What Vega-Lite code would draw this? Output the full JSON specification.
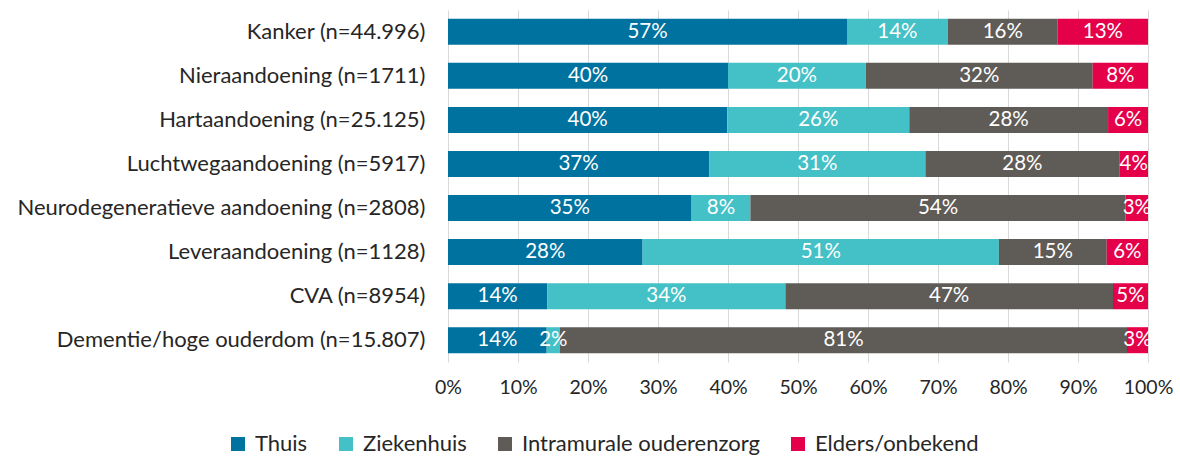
{
  "$schema": "https://vega.github.io/schema/vega-lite/v6.json",
  "width": 700,
  "height": 352,
  "autosize": {"type": "none"},
  "padding": {"left": 448, "top": 10, "right": 32, "bottom": 95},
  "background": "white",
  "config": {"view": {"stroke": null}, "font": "Lato"},
  "data": {"values": [
    {"cat": "Kanker (n=44.996)", "plaats": "Thuis", "o": 1, "v": 0.570},
    {"cat": "Kanker (n=44.996)", "plaats": "Ziekenhuis", "o": 2, "v": 0.144},
    {"cat": "Kanker (n=44.996)", "plaats": "Intramurale ouderenzorg", "o": 3, "v": 0.157},
    {"cat": "Kanker (n=44.996)", "plaats": "Elders/onbekend", "o": 4, "v": 0.129},
    {"cat": "Nieraandoening (n=1711)", "plaats": "Thuis", "o": 1, "v": 0.400},
    {"cat": "Nieraandoening (n=1711)", "plaats": "Ziekenhuis", "o": 2, "v": 0.197},
    {"cat": "Nieraandoening (n=1711)", "plaats": "Intramurale ouderenzorg", "o": 3, "v": 0.324},
    {"cat": "Nieraandoening (n=1711)", "plaats": "Elders/onbekend", "o": 4, "v": 0.079},
    {"cat": "Hartaandoening (n=25.125)", "plaats": "Thuis", "o": 1, "v": 0.399},
    {"cat": "Hartaandoening (n=25.125)", "plaats": "Ziekenhuis", "o": 2, "v": 0.260},
    {"cat": "Hartaandoening (n=25.125)", "plaats": "Intramurale ouderenzorg", "o": 3, "v": 0.284},
    {"cat": "Hartaandoening (n=25.125)", "plaats": "Elders/onbekend", "o": 4, "v": 0.057},
    {"cat": "Luchtwegaandoening (n=5917)", "plaats": "Thuis", "o": 1, "v": 0.373},
    {"cat": "Luchtwegaandoening (n=5917)", "plaats": "Ziekenhuis", "o": 2, "v": 0.309},
    {"cat": "Luchtwegaandoening (n=5917)", "plaats": "Intramurale ouderenzorg", "o": 3, "v": 0.277},
    {"cat": "Luchtwegaandoening (n=5917)", "plaats": "Elders/onbekend", "o": 4, "v": 0.041},
    {"cat": "Neurodegeneratieve aandoening (n=2808)", "plaats": "Thuis", "o": 1, "v": 0.348},
    {"cat": "Neurodegeneratieve aandoening (n=2808)", "plaats": "Ziekenhuis", "o": 2, "v": 0.084},
    {"cat": "Neurodegeneratieve aandoening (n=2808)", "plaats": "Intramurale ouderenzorg", "o": 3, "v": 0.536},
    {"cat": "Neurodegeneratieve aandoening (n=2808)", "plaats": "Elders/onbekend", "o": 4, "v": 0.032},
    {"cat": "Leveraandoening (n=1128)", "plaats": "Thuis", "o": 1, "v": 0.278},
    {"cat": "Leveraandoening (n=1128)", "plaats": "Ziekenhuis", "o": 2, "v": 0.509},
    {"cat": "Leveraandoening (n=1128)", "plaats": "Intramurale ouderenzorg", "o": 3, "v": 0.154},
    {"cat": "Leveraandoening (n=1128)", "plaats": "Elders/onbekend", "o": 4, "v": 0.059},
    {"cat": "CVA (n=8954)", "plaats": "Thuis", "o": 1, "v": 0.142},
    {"cat": "CVA (n=8954)", "plaats": "Ziekenhuis", "o": 2, "v": 0.340},
    {"cat": "CVA (n=8954)", "plaats": "Intramurale ouderenzorg", "o": 3, "v": 0.468},
    {"cat": "CVA (n=8954)", "plaats": "Elders/onbekend", "o": 4, "v": 0.050},
    {"cat": "Dementie/hoge ouderdom (n=15.807)", "plaats": "Thuis", "o": 1, "v": 0.141},
    {"cat": "Dementie/hoge ouderdom (n=15.807)", "plaats": "Ziekenhuis", "o": 2, "v": 0.019},
    {"cat": "Dementie/hoge ouderdom (n=15.807)", "plaats": "Intramurale ouderenzorg", "o": 3, "v": 0.810},
    {"cat": "Dementie/hoge ouderdom (n=15.807)", "plaats": "Elders/onbekend", "o": 4, "v": 0.030}
  ]},
  "transform": [
    {"stack": "v", "groupby": ["cat"], "sort": [{"field": "o", "order": "ascending"}], "as": ["x0", "x1"]},
    {"calculate": "(datum.x0 + datum.x1) / 2", "as": "xm"}
  ],
  "encoding": {
    "y": {
      "field": "cat", "type": "nominal", "sort": null, "title": null,
      "scale": {"paddingInner": 0.41, "paddingOuter": 0.2},
      "axis": {"domain": false, "ticks": false, "labelPadding": 23, "labelFontSize": 22, "labelColor": "#262626", "labelLimit": 600}
    }
  },
  "layer": [
    {
      "mark": {"type": "bar"},
      "encoding": {
        "x": {
          "field": "x0", "type": "quantitative", "scale": {"domain": [0, 1], "nice": false},
          "title": null,
          "axis": {"format": ".0%", "values": [0, 0.1, 0.2, 0.3, 0.4, 0.5, 0.6, 0.7, 0.8, 0.9, 1], "domain": false, "ticks": false, "grid": true, "gridColor": "#D9D9D9", "gridWidth": 1, "labelFontSize": 19.5, "labelColor": "#262626", "labelPadding": 16, "labelFlush": false}
        },
        "x2": {"field": "x1"},
        "color": {
          "field": "plaats", "type": "nominal",
          "scale": {"domain": ["Thuis", "Ziekenhuis", "Intramurale ouderenzorg", "Elders/onbekend"], "range": ["#00729F", "#44C1C6", "#5F5B57", "#E5004A"]},
          "legend": {"title": null, "orient": "none", "legendX": -221, "legendY": 423, "direction": "horizontal", "columns": 4, "symbolType": "square", "symbolSize": 196, "symbolStrokeWidth": 0, "labelFontSize": 22, "labelColor": "#262626", "labelLimit": 600, "columnPadding": 27, "labelOffset": 6}
        },
        "order": {"field": "o"}
      }
    },
    {
      "mark": {"type": "text", "color": "white", "fontSize": 20.5, "align": "center", "baseline": "middle"},
      "encoding": {
        "x": {"field": "xm", "type": "quantitative"},
        "text": {"field": "v", "type": "quantitative", "format": ".0%"}
      }
    }
  ]
}
